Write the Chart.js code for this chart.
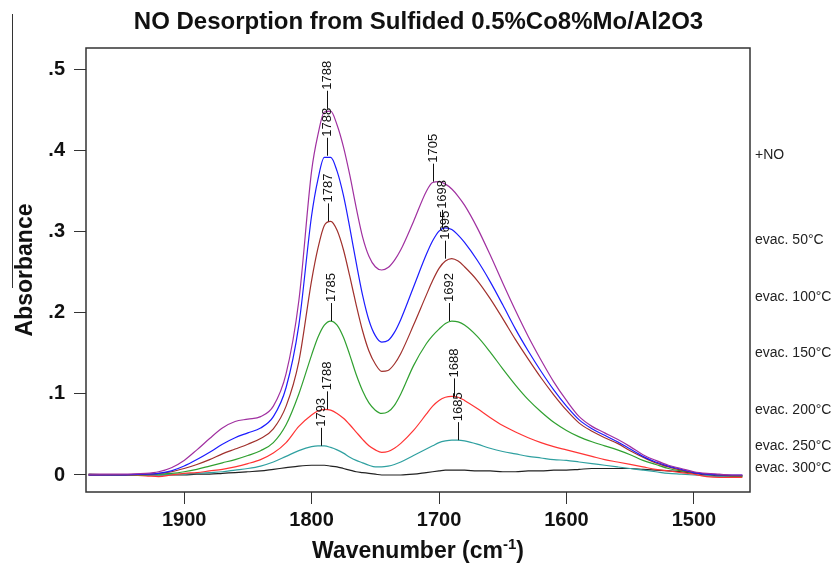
<!DOCTYPE html>
<html>
<head>
<meta charset="utf-8">
<script src="https://cdn.jsdelivr.net/npm/chart.js@4.4.1/dist/chart.umd.min.js"></script>
<style>
  html, body { margin: 0; padding: 0; background: #fff; }
  #wrap { width: 837px; height: 566px; }
</style>
</head>
<body>
<div id="wrap"><canvas id="spectra" width="837" height="566"></canvas></div>
<script>
// wavenumber grid (cm-1) shared by all spectra
const wavenumbers = [1975, 1950, 1930, 1920, 1910, 1900, 1890, 1880, 1870, 1860,
  1850, 1840, 1830, 1820, 1810, 1800, 1795, 1790, 1785, 1780,
  1775, 1770, 1765, 1760, 1755, 1750, 1745, 1740, 1735, 1730,
  1720, 1710, 1705, 1700, 1695, 1690, 1685, 1680, 1670, 1660,
  1650, 1640, 1630, 1620, 1610, 1600, 1590, 1580, 1570, 1560,
  1550, 1540, 1530, 1520, 1510, 1500, 1490, 1480, 1470, 1462];

const absNO = [0.001, 0.001, 0.002, 0.004, 0.009, 0.018, 0.031, 0.045, 0.058, 0.066,
  0.069, 0.072, 0.085, 0.125, 0.215, 0.375, 0.420, 0.448, 0.449, 0.432,
  0.405, 0.370, 0.330, 0.294, 0.270, 0.257, 0.253, 0.256, 0.265, 0.278,
  0.313, 0.350, 0.361, 0.362, 0.359, 0.353, 0.344, 0.333, 0.305, 0.272,
  0.237, 0.203, 0.171, 0.142, 0.115, 0.092, 0.072, 0.060, 0.052, 0.044,
  0.035, 0.025, 0.018, 0.012, 0.008, 0.004, 0.002, 0.001, 0.000, 0.000];

const abs50 = [0, 0, 0.001, 0.002, 0.005, 0.011, 0.019, 0.028, 0.038, 0.046,
  0.052, 0.058, 0.072, 0.108, 0.185, 0.320, 0.365, 0.392, 0.392, 0.375,
  0.345, 0.305, 0.262, 0.222, 0.191, 0.172, 0.164, 0.166, 0.176, 0.192,
  0.232, 0.272, 0.289, 0.301, 0.305, 0.303, 0.296, 0.287, 0.265, 0.239,
  0.210, 0.180, 0.153, 0.128, 0.105, 0.085, 0.068, 0.057, 0.049, 0.041,
  0.032, 0.023, 0.016, 0.011, 0.007, 0.003, 0.001, 0, 0, 0];

const abs100 = [0, 0, 0.001, 0.002, 0.004, 0.008, 0.013, 0.019, 0.026, 0.032,
  0.038, 0.045, 0.057, 0.085, 0.140, 0.240, 0.280, 0.308, 0.313, 0.302,
  0.278, 0.245, 0.210, 0.178, 0.153, 0.137, 0.128, 0.129, 0.137, 0.150,
  0.185, 0.222, 0.240, 0.255, 0.264, 0.267, 0.264, 0.257, 0.240, 0.218,
  0.193, 0.167, 0.143, 0.120, 0.099, 0.080, 0.064, 0.054, 0.046, 0.039,
  0.030, 0.022, 0.015, 0.010, 0.006, 0.003, 0.001, 0, -0.001, -0.001];

const abs150 = [0.001, 0, 0, 0.001, 0.002, 0.004, 0.007, 0.011, 0.015, 0.019,
  0.024, 0.030, 0.040, 0.062, 0.100, 0.148, 0.170, 0.185, 0.190, 0.185,
  0.170, 0.148, 0.124, 0.104, 0.089, 0.080, 0.076, 0.078, 0.086, 0.100,
  0.135, 0.162, 0.172, 0.180, 0.187, 0.190, 0.189, 0.185, 0.171, 0.152,
  0.131, 0.111, 0.093, 0.078, 0.065, 0.055, 0.047, 0.041, 0.036, 0.031,
  0.025, 0.018, 0.013, 0.008, 0.005, 0.003, 0.001, 0, -0.001, -0.001];

const abs200 = [0, 0, -0.001, -0.002, 0, 0.002, 0.003, 0.005, 0.007, 0.010,
  0.014, 0.019, 0.027, 0.040, 0.060, 0.074, 0.079, 0.081, 0.080, 0.076,
  0.070, 0.062, 0.053, 0.044, 0.036, 0.031, 0.028, 0.029, 0.033, 0.039,
  0.055, 0.075, 0.085, 0.092, 0.096, 0.097, 0.096, 0.092, 0.082, 0.071,
  0.061, 0.053, 0.046, 0.040, 0.035, 0.031, 0.027, 0.023, 0.019, 0.016,
  0.013, 0.010, 0.007, 0.005, 0.003, 0.001, -0.002, -0.003, -0.003, -0.003];

const abs250 = [0, 0, 0, 0, 0.001, 0.001, 0.002, 0.003, 0.004, 0.006,
  0.008, 0.011, 0.016, 0.023, 0.030, 0.035, 0.036, 0.036, 0.034, 0.031,
  0.027, 0.022, 0.018, 0.015, 0.012, 0.010, 0.010, 0.011, 0.013, 0.016,
  0.024, 0.032, 0.036, 0.040, 0.042, 0.043, 0.043, 0.042, 0.038, 0.033,
  0.029, 0.026, 0.023, 0.021, 0.019, 0.018, 0.016, 0.014, 0.012, 0.010,
  0.008, 0.006, 0.004, 0.002, 0.001, 0, -0.001, -0.002, -0.002, -0.002];

const abs300 = [0, 0, 0, 0, 0, 0, 0.001, 0.001, 0.002, 0.003,
  0.004, 0.005, 0.007, 0.009, 0.011, 0.012, 0.012, 0.012, 0.011, 0.010,
  0.008, 0.006, 0.004, 0.003, 0.002, 0.001, 0, 0, 0, 0,
  0.001, 0.003, 0.004, 0.005, 0.006, 0.006, 0.006, 0.006, 0.005, 0.005,
  0.004, 0.004, 0.005, 0.005, 0.006, 0.006, 0.007, 0.008, 0.008, 0.008,
  0.008, 0.007, 0.006, 0.005, 0.004, 0.002, 0, -0.001, -0.001, -0.001];

const seriesNames = ['+NO', 'evac. 50°C', 'evac. 100°C', 'evac. 150°C', 'evac. 200°C', 'evac. 250°C', 'evac. 300°C'];
const seriesValues = [absNO, abs50, abs100, abs150, abs200, abs250, abs300];
const seriesColors = ['#a030a0', '#1c1cff', '#a0302c', '#30a030', '#ff3434', '#2fa0a0', '#222222'];

// labelled band maxima
const peakLabels = ['1788', '1788', '1787', '1785', '1788', '1793', '1705', '1698', '1695', '1692', '1688', '1685'];
const peakWavenumbers = [1788, 1788, 1787, 1785, 1788, 1793, 1705, 1698, 1695, 1692, 1688, 1685];
const peakValues = [0.452, 0.394, 0.313, 0.190, 0.081, 0.036, 0.362, 0.305, 0.267, 0.190, 0.097, 0.043];

const xTicks = [1900, 1800, 1700, 1600, 1500];
const yTicks = [0, 0.1, 0.2, 0.3, 0.4, 0.5];

const FONT = '"Liberation Sans", Arial, Helvetica, sans-serif';

const decor = {
  id: 'decor',
  afterDatasetsDraw(chart, args, opts) {
    const { ctx, chartArea: a, scales: { x, y } } = chart;
    ctx.save();
    // frame round the plot
    ctx.strokeStyle = '#333';
    ctx.lineWidth = 1.5;
    ctx.strokeRect(a.left, a.top, a.right - a.left, a.bottom - a.top);

    // peak stems and rotated labels
    ctx.strokeStyle = '#111';
    ctx.fillStyle = '#111';
    ctx.lineWidth = 1;
    ctx.font = '13px ' + FONT;
    peakWavenumbers.forEach((wn, i) => {
      const px = Math.round(x.getPixelForValue(wn)) + 0.5;
      const py = y.getPixelForValue(peakValues[i]);
      ctx.beginPath();
      ctx.moveTo(px, py);
      ctx.lineTo(px, py - opts.stem);
      ctx.stroke();
      ctx.save();
      ctx.translate(px, py - opts.stem - 1);
      ctx.rotate(-Math.PI / 2);
      ctx.textAlign = 'left';
      ctx.textBaseline = 'middle';
      ctx.fillText(peakLabels[i], 0, 0);
      ctx.restore();
    });

    // series names at the right
    ctx.fillStyle = '#222';
    ctx.font = '14px ' + FONT;
    ctx.textAlign = 'left';
    ctx.textBaseline = 'middle';
    seriesNames.forEach((name, i) => {
      ctx.fillText(name, a.right + 5, y.getPixelForValue(opts.nameAt[i]));
    });
    ctx.restore();
  },
  afterDraw(chart) {
    const { ctx, chartArea: a, width } = chart;
    ctx.save();
    ctx.fillStyle = '#111';
    // title
    ctx.font = 'bold 24px ' + FONT;
    ctx.textAlign = 'center';
    ctx.textBaseline = 'middle';
    ctx.fillText('NO Desorption from Sulfided 0.5%Co8%Mo/Al2O3', width / 2, 22);

    // x axis title with superscript
    const main = 'Wavenumber (cm';
    const sup = '-1';
    const close = ')';
    ctx.font = 'bold 23px ' + FONT;
    const w1 = ctx.measureText(main).width;
    const w3 = ctx.measureText(close).width;
    ctx.font = 'bold 15px ' + FONT;
    const w2 = ctx.measureText(sup).width;
    const sx = (a.left + a.right) / 2 - (w1 + w2 + w3) / 2;
    const base = 558;
    ctx.textAlign = 'left';
    ctx.textBaseline = 'alphabetic';
    ctx.font = 'bold 23px ' + FONT;
    ctx.fillText(main, sx, base);
    ctx.font = 'bold 15px ' + FONT;
    ctx.fillText(sup, sx + w1, base - 9);
    ctx.font = 'bold 23px ' + FONT;
    ctx.fillText(close, sx + w1 + w2, base);

    // left edge rule of the original figure
    ctx.strokeStyle = '#333';
    ctx.lineWidth = 1;
    ctx.beginPath();
    ctx.moveTo(12.5, 14);
    ctx.lineTo(12.5, 288);
    ctx.stroke();
    ctx.restore();
  }
};

const datasets = seriesNames.map((name, i) => ({
  label: name,
  data: wavenumbers.map((wn, j) => ({ x: wn, y: seriesValues[i][j] })),
  borderColor: seriesColors[i],
  borderWidth: 1.2,
  pointRadius: 0,
  fill: false,
  cubicInterpolationMode: 'monotone'
}));

new Chart(document.getElementById('spectra'), {
  type: 'line',
  data: { datasets: datasets },
  plugins: [decor],
  options: {
    responsive: false,
    animation: false,
    devicePixelRatio: 1,
    layout: { padding: { left: 0, right: 87, top: 48, bottom: 0 } },
    plugins: {
      legend: { display: false },
      tooltip: { enabled: false },
      decor: {
        stem: 18,
        nameAt: [0.395, 0.290, 0.219, 0.150, 0.080, 0.035, 0.009]
      }
    },
    scales: {
      x: {
        type: 'linear',
        reverse: true,
        min: 1456,
        max: 1977,
        afterFit: s => { s.height = 74; },
        afterBuildTicks: s => { s.ticks = xTicks.map(v => ({ value: v })); },
        border: { display: false },
        grid: { drawOnChartArea: false, drawTicks: true, tickLength: 12, color: '#333', lineWidth: 1 },
        ticks: {
          color: '#111', padding: 4,
          font: { family: FONT, size: 20, weight: 'bold' },
          callback: v => String(v)
        }
      },
      y: {
        min: -0.021,
        max: 0.527,
        afterFit: s => { s.width = 86; },
        afterBuildTicks: s => { s.ticks = yTicks.map(v => ({ value: v })); },
        border: { display: false },
        grid: { drawOnChartArea: false, drawTicks: true, tickLength: 12, color: '#333', lineWidth: 1 },
        ticks: {
          color: '#111', padding: 9,
          font: { family: FONT, size: 20, weight: 'bold' },
          callback: v => v === 0 ? '0' : v.toFixed(1).replace(/^0/, '')
        },
        title: {
          display: true, text: 'Absorbance', color: '#111',
          font: { family: FONT, size: 23, weight: 'bold' },
          padding: { top: 12, bottom: 0 }
        }
      }
    }
  }
});
</script>
</body>
</html>
